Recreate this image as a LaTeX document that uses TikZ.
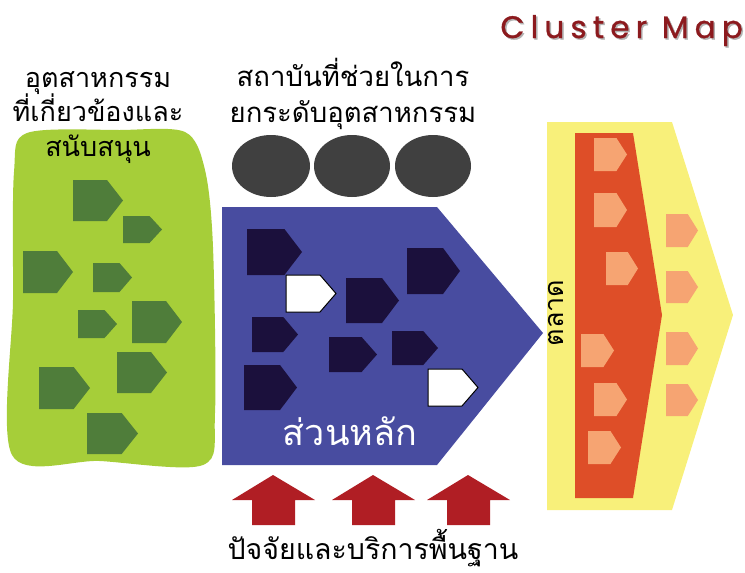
\documentclass[tikz,border=0pt]{standalone}
\usepackage{fontspec}
\newfontfamily\thai[Script=Thai]{Loma}
\newfontfamily\titlefont[LetterSpace=20,FakeBold=1]{Poppins}
\definecolor{lgreen}{RGB}{166,206,57}
\definecolor{dgreen}{RGB}{79,125,58}
\definecolor{mblue}{RGB}{72,76,160}
\definecolor{navy}{RGB}{27,16,60}
\definecolor{dgray}{RGB}{64,64,64}
\definecolor{lyellow}{RGB}{248,240,122}
\definecolor{redorange}{RGB}{222,78,40}
\definecolor{salmon}{RGB}{246,164,114}
\definecolor{arrowred}{RGB}{176,30,36}
\definecolor{titlered}{RGB}{140,26,30}
\newcommand{\pentshape}[5]{\path[#5] (#1,#2) -- ({#1+0.68*(#3-#1)},#2) -- (#3,{(#2+#4)/2}) -- ({#1+0.68*(#3-#1)},#4) -- (#1,#4) -- cycle;}
\newcommand{\uparrowshape}[6]{\path[#6] (#1,525) -- (#1,500) -- (#3,500) -- (#4,475) -- (#5,500) -- (#2,500) -- (#2,525) -- cycle;}
\begin{document}
\begin{tikzpicture}[x=1pt,y=-1pt,
  thaitext/.style={font=\thai\fontsize{27}{30}\selectfont, anchor=base, inner sep=0pt},
  gp/.style={fill=dgreen},
  np/.style={fill=navy},
  wp/.style={fill=white,draw=black,line width=1pt},
  sp/.style={fill=salmon},
  ra/.style={fill=arrowred}]
\useasboundingbox (0,0) rectangle (745,573);
% title
\node[font=\titlefont\fontsize{31}{34}\selectfont, text=black!30, anchor=base east, inner sep=0pt] (titleshadow) at (744.5,39.5) {Cluster Map};
\node[font=\titlefont\fontsize{31}{34}\selectfont, text=titlered, anchor=base east, inner sep=0pt] (title) at (743,38) {Cluster Map};
% green blob
\fill[lgreen] plot[smooth cycle, tension=0.5] coordinates {(27,133) (120,130) (185,132) (205,170) (213,247) (215,413) (203,465) (100,461) (12,455) (13,300) (14,172)};
% left text
\node[thaitext] (l1) at (98,87) {อุตสาหกรรม};
\node[thaitext] (l2) at (98,121) {ที่เกี่ยวข้องและ};
\node[thaitext] (l3) at (98,156) {สนับสนุน};
% green pentagons
\pentshape{73}{180}{123}{221}{gp}
\pentshape{123}{216}{162}{243}{gp}
\pentshape{23}{251}{73}{293}{gp}
\pentshape{93}{263}{132}{292}{gp}
\pentshape{78}{310}{117}{338}{gp}
\pentshape{132}{301}{182}{343}{gp}
\pentshape{117}{352}{167}{393}{gp}
\pentshape{39}{367}{90}{409}{gp}
\pentshape{87}{413}{138}{454}{gp}
% middle text
\node[thaitext, font=\thai\fontsize{27.5}{30}\selectfont] (m1) at (353,86) {สถาบันที่ช่วยในการ};
\node[thaitext, font=\thai\fontsize{27.5}{30}\selectfont] (m2) at (353,122) {ยกระดับอุตสาหกรรม};
% ellipses
\fill[dgray] (271,166) ellipse[x radius=39, y radius=31];
\fill[dgray] (352,166) ellipse[x radius=38, y radius=31];
\fill[dgray] (433,166) ellipse[x radius=38, y radius=31];
% blue pentagon
\fill[mblue] (222,207) -- (437,207) -- (543,333) -- (437,465) -- (222,465) -- cycle;
\pentshape{247}{229}{302}{275}{np}
\pentshape{346}{278}{399}{323}{np}
\pentshape{407}{248}{460}{294}{np}
\pentshape{252}{317}{298}{352}{np}
\pentshape{329}{337}{377}{372}{np}
\pentshape{392}{331}{438}{365}{np}
\pentshape{244}{365}{297}{410}{np}
\pentshape{286}{275}{336}{312}{wp}
\pentshape{428}{369}{478}{406}{wp}
\node[font=\thai\fontsize{36}{40}\selectfont, text=white, anchor=base, inner sep=0pt] (core) at (350,445) {ส่วนหลัก};
% market
\fill[lyellow] (547,122) -- (672,122) -- (733,315) -- (672,510) -- (547,510) -- cycle;
\fill[redorange] (575,133) -- (633,133) -- (662,315) -- (633,498) -- (575,498) -- cycle;
\pentshape{594}{138}{627}{171}{sp}
\pentshape{594}{193}{627}{227}{sp}
\pentshape{606}{252}{638}{285}{sp}
\pentshape{581}{334}{614}{367}{sp}
\pentshape{594}{383}{627}{416}{sp}
\pentshape{588}{431}{621}{464}{sp}
\pentshape{666}{214}{698}{247}{sp}
\pentshape{666}{271}{698}{303}{sp}
\pentshape{666}{332}{698}{365}{sp}
\pentshape{666}{384}{698}{416}{sp}
\node[font=\thai\fontsize{27}{30}\selectfont, rotate=90, inner sep=0pt] (market) at (556,313) {ตลาด};
% arrows
\uparrowshape{252}{295}{232}{273}{315}{ra}
\uparrowshape{352}{395}{332}{373}{415}{ra}
\uparrowshape{447}{490}{427}{468}{510}{ra}
\node[thaitext, font=\thai\fontsize{28.5}{30}\selectfont] (bottom) at (373,559) {ปัจจัยและบริการพื้นฐาน};
\end{tikzpicture}
\end{document}
